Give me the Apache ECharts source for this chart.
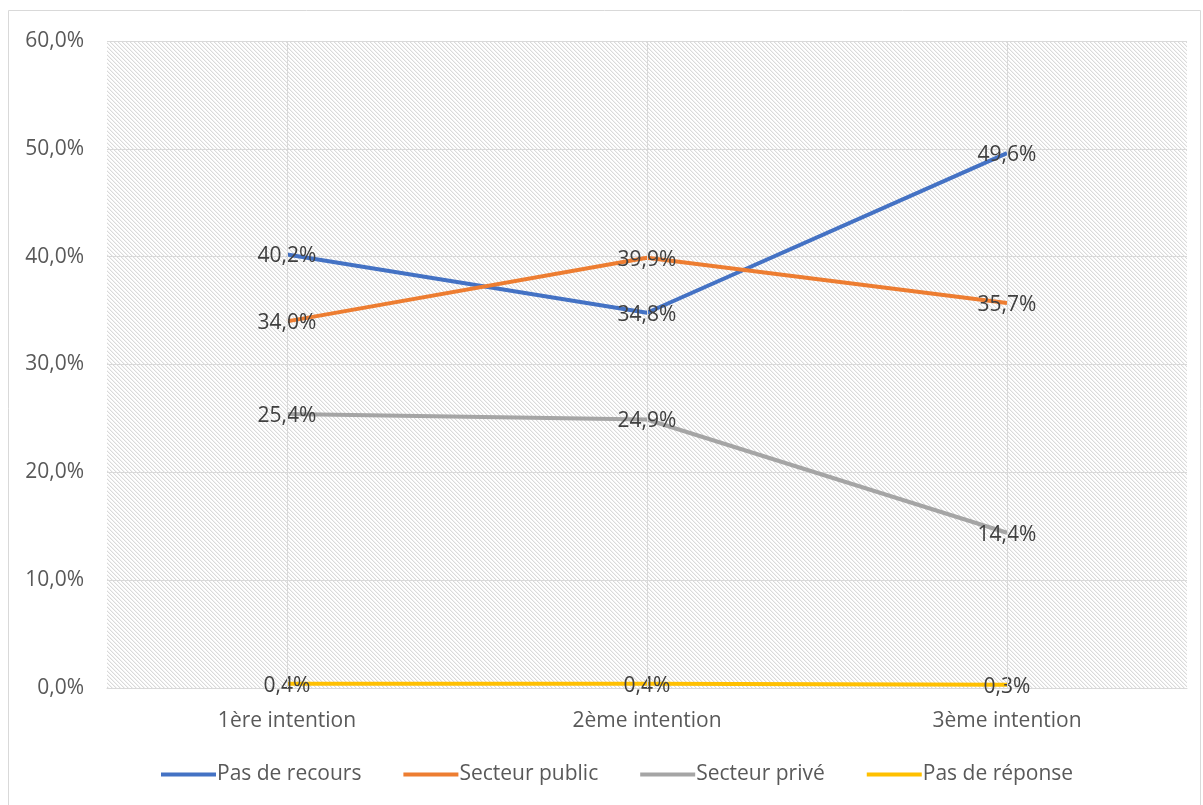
<!DOCTYPE html>
<html><head><meta charset="utf-8">
<script src="https://cdn.jsdelivr.net/npm/echarts@6/dist/echarts.min.js"></script>
<style>html,body{margin:0;padding:0;background:#fff}#c{width:1203px;height:805px}</style>
</head><body><div id="c"></div>
<script>
const categories = ['1ère intention', '2ème intention', '3ème intention'];
const pasDeRecours = [40.2, 34.8, 49.6];
const secteurPublic = [34.0, 39.9, 35.7];
const secteurPrive = [25.4, 24.9, 14.4];
const pasDeReponse = [0.4, 0.4, 0.3];
const seriesNames = ['Pas de recours', 'Secteur public', 'Secteur privé', 'Pas de réponse'];
const colors = ['#4472C4', '#ED7D31', '#A5A5A5', '#FFC000'];

const tile = document.createElement('canvas');
tile.width = 8; tile.height = 8;
const tc = tile.getContext('2d');
tc.fillStyle = '#ffffff'; tc.fillRect(0,0,8,8);
tc.fillStyle = '#dadada';
for (let y = 0; y < 8; y++) for (let x = 0; x < 8; x++) {
  if (((x - y) % 4 + 4) % 4 === 0) tc.fillRect(x, y, 1, 1);
}
tc.fillStyle = '#f2f2f2';
for (let y = 0; y < 8; y++) for (let x = 0; x < 8; x++) {
  if (((x - y) % 4 + 4) % 4 === 1) tc.fillRect(x, y, 1, 1);
}

const fmt = v => v.toFixed(1).replace('.', ',') + '%';
const font = 'Open Sans';
const fs = 21;
const chart = echarts.init(document.getElementById('c'));
const mk = (name, data, color) => ({
  name, type: 'line', data, symbol: 'circle', symbolSize: 0.1,
  itemStyle: { color }, lineStyle: { color, width: 4 },
  label: { show: true, position: 'inside', offset: [0, 2], formatter: p => fmt(p.value), color: '#404040', fontSize: fs, fontFamily: font },
  z: 3
});
chart.setOption({
  animation: false,
  graphic: [{ type: 'rect', shape: { x: 8.5, y: 10.5, width: 1192, height: 820 }, style: { fill: 'none', stroke: '#d9d9d9', lineWidth: 1 }, silent: true }],
  grid: { left: 107, right: 16, top: 41, bottom: 117, show: true,
    backgroundColor: { image: tile, repeat: 'repeat' }, borderWidth: 0 },
  legend: { data: seriesNames, bottom: 15, left: 156, itemWidth: 55, itemHeight: 4, icon: 'rect', itemGap: 42,
    textStyle: { color: '#595959', fontSize: fs, fontFamily: font, padding: [0,0,0,-4] } },
  xAxis: { type: 'category', data: categories, boundaryGap: true,
    axisLine: { lineStyle: { color: '#d9d9d9' } }, axisTick: { show: false },
    axisLabel: { color: '#595959', fontSize: fs, fontFamily: font, margin: 23 },
    splitLine: { show: false } },
  yAxis: { type: 'value', min: 0, max: 60, interval: 10,
    axisLine: { show: false }, axisTick: { show: false },
    axisLabel: { color: '#595959', fontSize: fs, fontFamily: font, formatter: v => fmt(v), margin: 23 },
    splitLine: { lineStyle: { color: '#d9d9d9', width: 1 } } },
  series: [
    { type: 'line', data: [], z: 1, silent: true,
      markLine: { silent: true, symbol: 'none', label: { show: false },
        lineStyle: { color: '#d9d9d9', width: 1, type: 'solid' },
        data: categories.map(c => ({ xAxis: c })) } },
    mk(seriesNames[0], pasDeRecours, colors[0]),
    mk(seriesNames[1], secteurPublic, colors[1]),
    mk(seriesNames[2], secteurPrive, colors[2]),
    mk(seriesNames[3], pasDeReponse, colors[3])
  ]
});
</script></body></html>
